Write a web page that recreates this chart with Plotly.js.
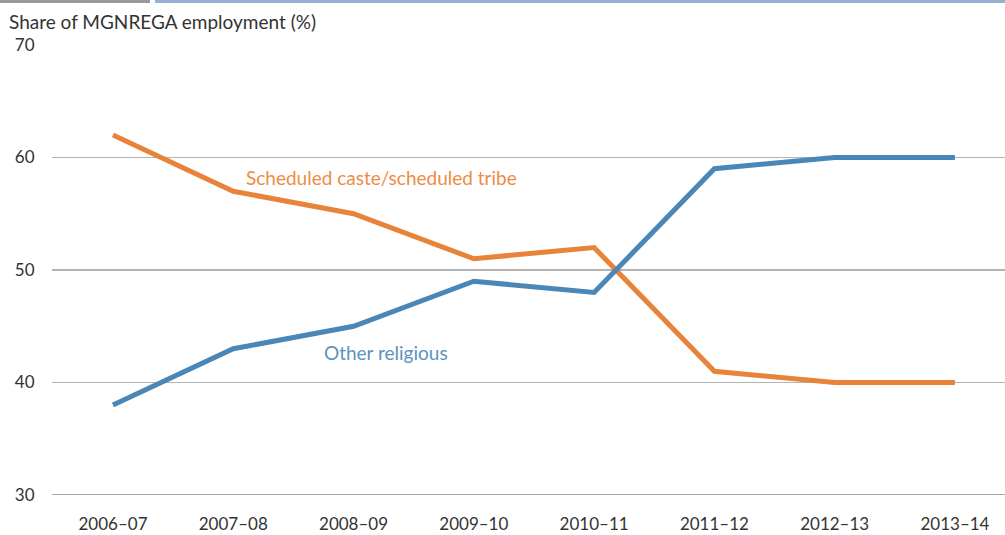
<!DOCTYPE html>
<html>
<head>
<meta charset="utf-8">
<script src="https://cdn.plot.ly/plotly-3.0.1.min.js"></script>
<style>html,body{margin:0;padding:0;background:#fff;}#chart{width:1005px;height:535px;}</style>
</head>
<body>
<div id="chart"></div>
<script>
var years = ["2006–07","2007–08","2008–09","2009–10","2010–11","2011–12","2012–13","2013–14"];
var scheduledCaste = [62, 57, 55, 51, 52, 41, 40, 40];
var otherReligious = [38, 43, 45, 49, 48, 59, 60, 60];
var seriesNames = ["Scheduled caste/scheduled tribe", "Other religious"];
var yTitle = "Share of MGNREGA employment (%)";

var W = 1005, H = 535, L = 52, R = 0, T = 45, B = 40;
var pw = W - L - R, ph = H - T - B;
var font = "Lato, 'Open Sans', sans-serif";
var orange = "#E8843A", blue = "#4B87B6";

var traces = [
  {x: years, y: scheduledCaste, type: "scatter", mode: "lines", name: seriesNames[0],
   line: {color: orange, width: 5}, hoverinfo: "skip"},
  {x: years, y: otherReligious, type: "scatter", mode: "lines", name: seriesNames[1],
   line: {color: blue, width: 5}, hoverinfo: "skip"}
];

var layout = {
  width: W, height: H,
  margin: {l: L, r: R, t: T, b: B, pad: 0},
  paper_bgcolor: "#fff", plot_bgcolor: "#fff",
  showlegend: false,
  font: {family: font, size: 17, color: "#333"},
  xaxis: {
    type: "category", range: [-0.507, 7.416],
    showgrid: false, zeroline: false, showline: false,
    ticks: "outside", ticklen: 14, tickcolor: "rgba(0,0,0,0)",
    tickfont: {family: font, size: 17, color: "#333"}
  },
  yaxis: {
    range: [30, 70], dtick: 10, tick0: 30,
    showgrid: true, gridcolor: "#b3b3b3", gridwidth: 1.5,
    zeroline: false, showline: false,
    ticks: "outside", ticklen: 13, tickcolor: "rgba(0,0,0,0)",
    tickfont: {family: font, size: 17, color: "#333"}
  },
  shapes: [
    {type: "rect", xref: "paper", yref: "paper",
     x0: -L/pw, x1: (150-L)/pw, y0: 1 + (T-3)/ph, y1: 1 + T/ph,
     fillcolor: "#9a9a9a", line: {width: 0}},
    {type: "rect", xref: "paper", yref: "paper",
     x0: (155-L)/pw, x1: 1, y0: 1 + (T-3)/ph, y1: 1 + T/ph,
     fillcolor: "#93b2d1", line: {width: 0}},
    {type: "line", xref: "paper", yref: "y", x0: 0, x1: 1, y0: 30, y1: 30,
     line: {color: "#8a8a8a", width: 1.5}}
  ],
  annotations: [
    {xref: "paper", yref: "paper", x: -L/pw + 7/pw, y: 1 + (T-21)/ph,
     xanchor: "left", yanchor: "middle", showarrow: false, text: yTitle,
     font: {family: font, size: 19, color: "#333"}},
    {xref: "x", yref: "y", x: 2.23, y: 58.2, showarrow: false, text: seriesNames[0],
     xanchor: "center", yanchor: "middle", font: {family: font, size: 19, color: "#EE8C45"}},
    {xref: "x", yref: "y", x: 2.27, y: 42.7, showarrow: false, text: seriesNames[1],
     xanchor: "center", yanchor: "middle", font: {family: font, size: 19, color: "#5B93C0"}}
  ]
};

Plotly.newPlot("chart", traces, layout, {displayModeBar: false, staticPlot: true});
</script>
</body>
</html>
